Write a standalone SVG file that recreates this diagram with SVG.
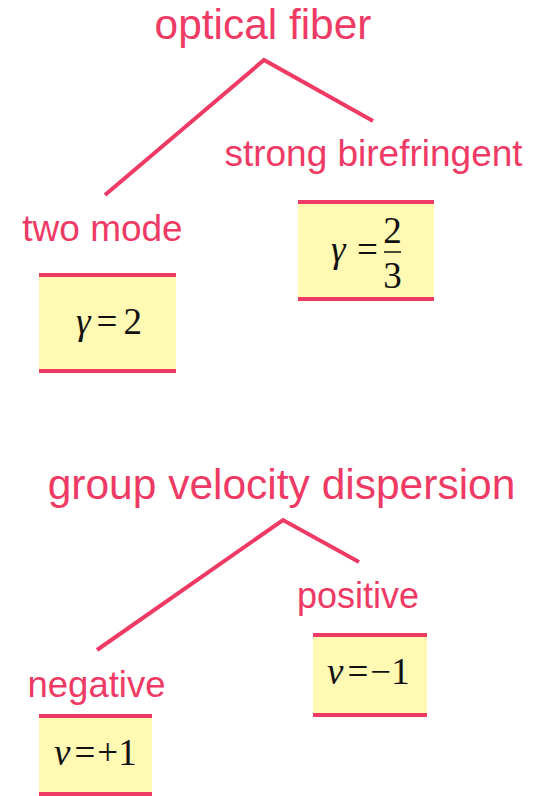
<svg xmlns="http://www.w3.org/2000/svg" width="544" height="796" viewBox="0 0 544 796">
<style>
.lbl{font-family:"Liberation Sans",Arial,sans-serif;fill:#EE3A64;}
.conn{stroke:#EE3A64;stroke-width:4;fill:none;stroke-linecap:butt;stroke-linejoin:miter;}
.box{fill:#FFF9B3;}
.bar{stroke:#EE3A64;stroke-width:4;}
.m{font-family:"Liberation Serif","Times New Roman",serif;fill:#111;font-size:37px;}
.mi{font-style:italic;}
</style>
<rect width="544" height="796" fill="#fff"/>
<g id="connectors">
<polyline class="conn" points="105,195 264,60 373,121"/>
<polyline class="conn" points="97,650 283,520 359,562"/>
</g>
<g id="optical-fiber"><text class="lbl" x="263" y="39" font-size="42.4" text-anchor="middle">optical fiber</text></g>
<g id="strong-birefringent"><text class="lbl" x="373.5" y="166" font-size="37" text-anchor="middle">strong birefringent</text></g>
<g id="two-mode"><text class="lbl" x="102.5" y="241" font-size="37" text-anchor="middle">two mode</text></g>
<g id="box-gamma2">
<rect class="box" x="39" y="275" width="137" height="96"/>
<line class="bar" x1="39" y1="275" x2="176" y2="275"/>
<line class="bar" x1="39" y1="371" x2="176" y2="371"/>
<text class="m" x="76" y="334"><tspan class="mi">γ</tspan><tspan dx="6">=</tspan><tspan dx="6">2</tspan></text>
</g>
<g id="box-gamma23">
<rect class="box" x="298" y="202" width="136" height="97"/>
<line class="bar" x1="298" y1="202" x2="434" y2="202"/>
<line class="bar" x1="298" y1="299" x2="434" y2="299"/>
<text class="m mi" x="331" y="262">γ</text>
<text class="m" x="357" y="262">=</text>
<line x1="384" y1="252" x2="401" y2="252" stroke="#111" stroke-width="1.5"/>
<text class="m" x="392.5" y="243" text-anchor="middle" font-size="30">2</text>
<text class="m" x="392.5" y="288" text-anchor="middle" font-size="30">3</text>
</g>
<g id="group-velocity-dispersion"><text class="lbl" x="281.5" y="499" font-size="42.5" text-anchor="middle">group velocity dispersion</text></g>
<g id="positive"><text class="lbl" x="358" y="608" font-size="36" text-anchor="middle">positive</text></g>
<g id="negative"><text class="lbl" x="96.5" y="697" font-size="36.5" text-anchor="middle">negative</text></g>
<g id="box-nu-minus">
<rect class="box" x="313" y="635" width="114" height="80"/>
<line class="bar" x1="313" y1="635" x2="427" y2="635"/>
<line class="bar" x1="313" y1="715" x2="427" y2="715"/>
<text class="m" x="327" y="684"><tspan class="mi">ν</tspan><tspan dx="4">=</tspan><tspan dx="2">−1</tspan></text>
</g>
<g id="box-nu-plus">
<rect class="box" x="39" y="716" width="113" height="78"/>
<line class="bar" x1="39" y1="716" x2="152" y2="716"/>
<line class="bar" x1="39" y1="794" x2="152" y2="794"/>
<text class="m" x="54" y="765"><tspan class="mi">ν</tspan><tspan dx="4">=</tspan><tspan dx="2">+1</tspan></text>
</g>
</svg>
